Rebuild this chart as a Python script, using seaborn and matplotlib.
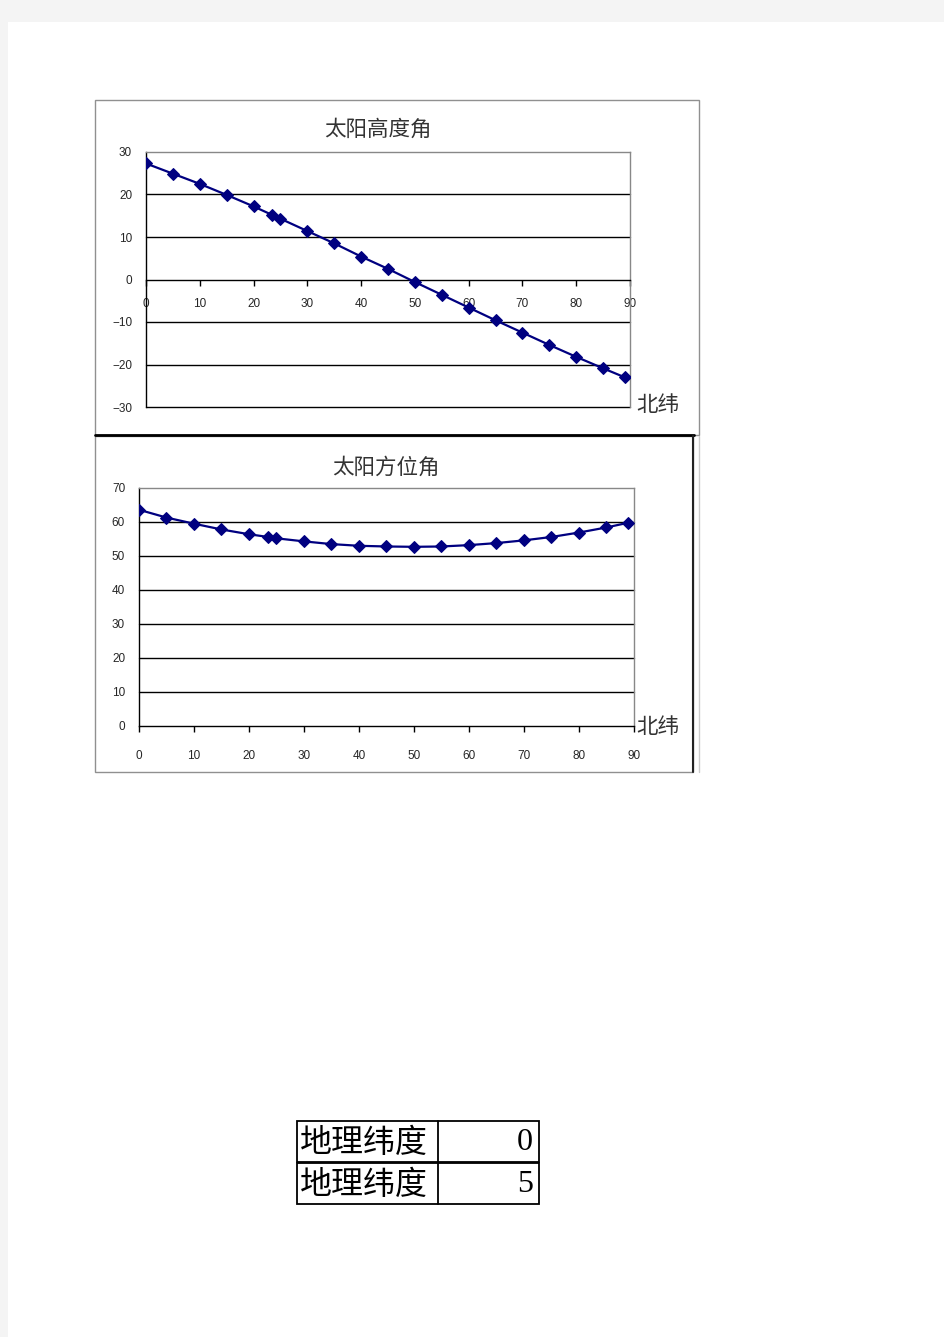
import numpy as np
import pandas as pd
import matplotlib
matplotlib.use("Agg")
import matplotlib.pyplot as plt
import seaborn as sns
from matplotlib.patches import Rectangle
from matplotlib.lines import Line2D

latitude = [0, 5, 10, 15, 20, 23.44, 25, 30, 35, 40, 45, 50, 55, 60, 65, 70, 75, 80, 85, 89]
altitude = [27.3, 24.9, 22.5, 19.9, 17.2, 15.2, 14.3, 11.4, 8.5, 5.4, 2.5, -0.6, -3.6, -6.6,
            -9.6, -12.5, -15.4, -18.2, -20.9, -23.0]
azimuth = [63.6, 61.3, 59.5, 57.8, 56.4, 55.6, 55.2, 54.3, 53.5, 53.0, 52.8, 52.7, 52.8, 53.2,
           53.8, 54.6, 55.6, 56.9, 58.4, 59.8]
title1 = "太阳高度角"
title2 = "太阳方位角"
xlabel = "北纬"
x_ticks = [0, 10, 20, 30, 40, 50, 60, 70, 80, 90]
alt_ticks = [-30, -20, -10, 0, 10, 20, 30]
azi_ticks = [0, 10, 20, 30, 40, 50, 60, 70]
table_labels = ["地理纬度", "地理纬度"]
table_values = ["0", "5"]

sns.set_style("white")
plt.rcParams['font.family'] = ['Noto Sans CJK SC', 'DejaVu Sans']

W, H = 945, 1337
fig = plt.figure(figsize=(W / 100, H / 100), dpi=100)
fig.patch.set_facecolor("white")


def fx(x):
    return x / W


def fy(y):
    return 1 - y / H


def frect(x0, y0, x1, y1, **kw):
    fig.add_artist(Rectangle((fx(x0), fy(y1)), fx(x1) - fx(x0), fy(y0) - fy(y1),
                             transform=fig.transFigure, **kw))


def fline(xs, ys, **kw):
    fig.add_artist(Line2D([fx(x) for x in xs], [fy(y) for y in ys],
                          transform=fig.transFigure, **kw))


# page background
frect(0, 0, W, 22, facecolor="#f4f4f4", edgecolor="none", zorder=-20)
frect(0, 0, 8, H, facecolor="#f4f4f4", edgecolor="none", zorder=-20)

# chart frames
frect(95, 100, 699, 435, facecolor="white", edgecolor="#909090", lw=1, zorder=-10)
frect(95, 436, 693, 772, facecolor="white", edgecolor="#909090", lw=1, zorder=-10)
fline([95, 694], [435.5, 435.5], color="black", lw=2, zorder=-5)
fline([693, 693], [436, 772], color="#222222", lw=1.5, zorder=-5)
fline([699.5, 699.5], [436, 772], color="#cccccc", lw=1, zorder=-5)

df = pd.DataFrame({"lat": latitude, "alt": altitude, "azi": azimuth})
navy = "#000080"


def style_axes(ax, ylim, yticks, xaxis_at_zero):
    ax.set_xlim(0, 90)
    ax.set_ylim(*ylim)
    ax.set_xticks(x_ticks)
    ax.set_yticks(yticks)
    ax.set_xlabel("")
    ax.set_ylabel("")
    for y in yticks:
        if y != ylim[1] and y != 0:
            ax.axhline(y, color="black", lw=1, zorder=1, clip_on=False)
    ax.spines["top"].set_color("#888888")
    ax.spines["right"].set_color("#888888")
    ax.spines["left"].set_color("black")
    ax.spines["bottom"].set_color("black")
    for s in ax.spines.values():
        s.set_linewidth(1)
        s.set_visible(True)
    if xaxis_at_zero:
        ax.spines["bottom"].set_position(("data", 0))
    ax.tick_params(axis="x", direction="out", length=4, width=1, color="black",
                   labelsize=8.5, pad=9, bottom=True)
    ax.tick_params(axis="y", length=0, labelsize=8.5, pad=10)
    for lab in ax.get_xticklabels() + ax.get_yticklabels():
        lab.set_family(["Liberation Sans", "DejaVu Sans"])
    ax.set_facecolor("none")


# chart 1
ax1 = fig.add_axes([fx(146), fy(407), fx(630) - fx(146), fy(152) - fy(407)])
sns.lineplot(data=df, x="lat", y="alt", ax=ax1, color=navy, lw=1.6, marker="D",
             markersize=6, markeredgecolor=navy, zorder=5)
style_axes(ax1, (-30, 30), alt_ticks, True)
fig.text(fx(378), fy(130), title1, ha="center", va="center", fontsize=15.5, color="#333333")
fig.text(fx(636), fy(405), xlabel, ha="left", va="center", fontsize=15.5, color="#333333")

# chart 2
ax2 = fig.add_axes([fx(139), fy(726), fx(634) - fx(139), fy(488) - fy(726)])
sns.lineplot(data=df, x="lat", y="azi", ax=ax2, color=navy, lw=1.6, marker="D",
             markersize=6, markeredgecolor=navy, zorder=5)
style_axes(ax2, (0, 70), azi_ticks, False)
ax2.tick_params(axis="x", pad=13)
fig.text(fx(386), fy(468), title2, ha="center", va="center", fontsize=15.5, color="#333333")
fig.text(fx(636), fy(727), xlabel, ha="left", va="center", fontsize=15.5, color="#333333")

# table
tx0, tx1, tx2 = 297, 438, 539
rows = [(1121, 1162), (1163, 1204)]
for (y0, y1), lab, val in zip(rows, table_labels, table_values):
    frect(tx0, y0, tx2, y1, facecolor="white", edgecolor="black", lw=1.3, zorder=-5)
    fline([tx1, tx1], [y0, y1], color="black", lw=1.3, zorder=-4)
    fig.text(fx(300), fy((y0 + y1) / 2 + 1), lab, ha="left", va="center", fontsize=23, color="black")
    fig.text(fx(533), fy((y0 + y1) / 2 + 1), val, ha="right", va="center", fontsize=23,
             color="black", family=["Liberation Serif", "DejaVu Serif"])

fig.savefig("out.png", dpi=100, facecolor=fig.get_facecolor())
